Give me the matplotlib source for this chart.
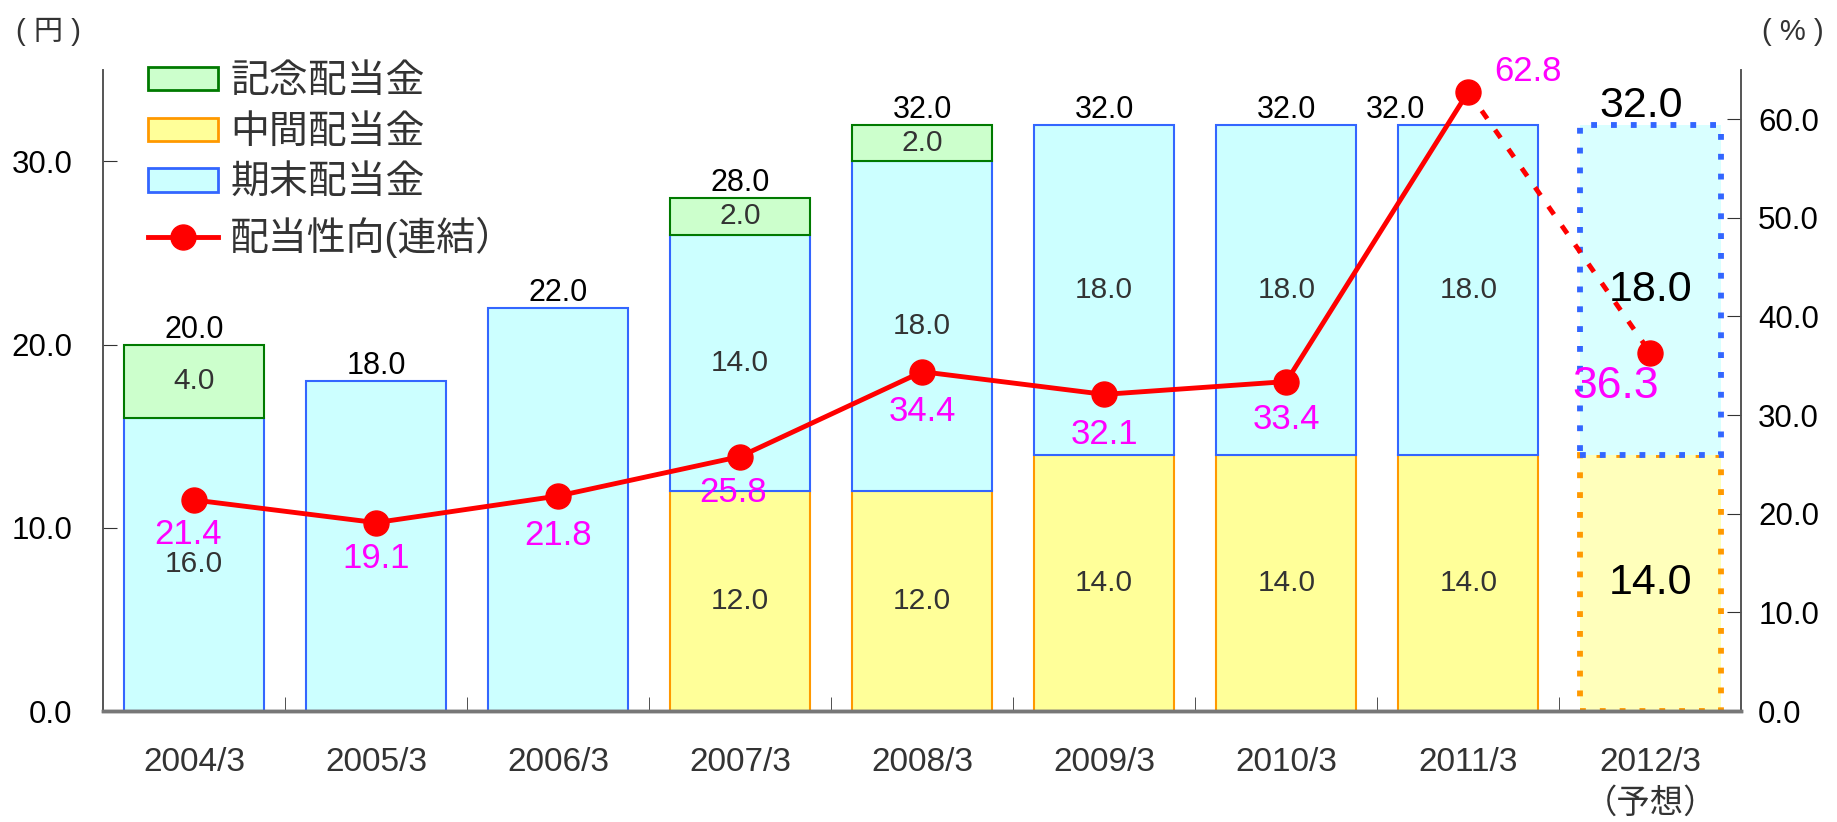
import numpy as np
import matplotlib.pyplot as plt
from matplotlib.patches import Patch
from matplotlib.lines import Line2D

plt.rcParams['font.family'] = ['Liberation Sans', 'Noto Sans CJK JP']

# Fiscal years, the last one is the forecast
years = ['2004/3', '2005/3', '2006/3', '2007/3', '2008/3',
         '2009/3', '2010/3', '2011/3', '2012/3\n（予想）']
# Dividend per share (yen)
interim = [0, 0, 0, 12.0, 12.0, 14.0, 14.0, 14.0, 14.0]
year_end = [16.0, 18.0, 22.0, 14.0, 18.0, 18.0, 18.0, 18.0, 18.0]
commemorative = [4.0, 0, 0, 2.0, 2.0, 0, 0, 0, 0]
# Consolidated payout ratio (%)
payout_ratio = [21.4, 19.1, 21.8, 25.8, 34.4, 32.1, 33.4, 62.8, 36.3]

# Colours
YELLOW, ORANGE = '#FFFF99', '#FF9900'
CYAN, BLUE = '#CCFFFF', '#3366FF'
LGREEN, GREEN = '#CCFFCC', '#007A00'
MAGENTA = '#FF00FF'

n = len(years)
x = np.arange(n)
width = 0.77
forecast = n - 1
totals = np.array(interim) + np.array(year_end) + np.array(commemorative)

fig = plt.figure(figsize=(18.37, 8.22), dpi=100)
ax = fig.add_axes([0.056, 0.135, 0.892, 0.780])

# Draw stacked bars segment by segment, so zero segments leave no edge line
for i in range(n):
    dotted = (i == forecast)
    ls = (0, (1.0, 2.4)) if dotted else '-'
    lw = 4.2 if dotted else 1.5
    segs = [(interim[i], 0, '#FFFFBB' if dotted else YELLOW, ORANGE),
            (year_end[i], interim[i], '#D9FFFF' if dotted else CYAN, BLUE),
            (commemorative[i], interim[i] + year_end[i], LGREEN, GREEN)]
    n_segs = sum(1 for s in segs if s[0] > 0)
    for h, b, fc, ec in segs:
        if h <= 0:
            continue
        ax.bar(x[i], h, width, bottom=b, color=fc, edgecolor=ec,
               linewidth=lw, linestyle=ls, zorder=2)
        # single segment bars only get the total on top
        if n_segs < 2:
            continue
        if dotted:
            ax.text(x[i], b + h / 2, '%.1f' % h, ha='center', va='center',
                    fontsize=31, color='black', zorder=3)
        else:
            ax.text(x[i], b + h / 2, '%.1f' % h, ha='center', va='center',
                    fontsize=21.5, color='#333333', zorder=3)

# Totals above the bars
for i in range(n):
    if i == forecast:
        ax.annotate('%.1f' % totals[i], (x[i] - 0.05, totals[i]), xytext=(0, -1),
                    textcoords='offset pixels', ha='center', va='bottom',
                    fontsize=31, color='black', zorder=3)
    else:
        dx = -0.4 if i == 7 else 0
        ax.annotate('%.1f' % totals[i], (x[i] + dx, totals[i]), xytext=(0, 0),
                    textcoords='offset pixels', ha='center', va='bottom',
                    fontsize=22, color='black', zorder=3)

ax.set_xlim(-0.5, n - 0.5)
ax.set_ylim(0, 35)
ax.set_yticks([0, 10, 20, 30])
ax.set_yticklabels(['%.1f' % v for v in [0, 10, 20, 30]])
ax.set_xticks(x)
ax.set_xticklabels(years, color='#333333', fontsize=24, linespacing=1.4)
ax.set_xticks(np.arange(0.5, n - 1), minor=True)
ax.tick_params(axis='x', which='major', length=0, pad=26)
ax.tick_params(axis='x', which='minor', direction='in', length=10, color='#333333')
ax.tick_params(axis='y', direction='in', length=10, labelsize=22.5, pad=22,
               color='#333333')

# Payout ratio on the right axis
ax2 = ax.twinx()
ax2.set_ylim(0, 65)
ax2.set_yticks(np.arange(0, 61, 10))
ax2.set_yticklabels(['%.1f' % v for v in np.arange(0, 61, 10)])
ax2.tick_params(axis='y', direction='in', length=10, labelsize=22.5, pad=12,
                color='#333333')
ax2.plot(x[:forecast], payout_ratio[:forecast], color='red', lw=3.5, zorder=4)
ax2.plot(x[forecast - 1:], payout_ratio[forecast - 1:], color='red', lw=3.5,
         linestyle=(0, (2, 2.8)), zorder=4)
ax2.plot(x, payout_ratio, 'o', color='red', markersize=18, zorder=5)

# Offsets (pixels) for the payout ratio labels
label_off = [(-6, -35), (0, -36), (0, -40), (-7, -36), (0, -40),
             (0, -40), (0, -38), (60, 20), (-35, -34)]
for i in range(n):
    fs = 32 if i == forecast else 25
    ax2.annotate('%.1f' % payout_ratio[i], (x[i], payout_ratio[i]),
                 xytext=label_off[i], textcoords='offset pixels',
                 ha='center', va='center', fontsize=fs, color=MAGENTA, zorder=6)

for a in (ax, ax2):
    a.spines['top'].set_visible(False)
    a.spines['left'].set_color('#555555')
    a.spines['right'].set_color('#555555')
    a.spines['bottom'].set_color('#777777')
    a.spines['bottom'].set_linewidth(2.5)
    a.spines['left'].set_linewidth(1.2)
    a.spines['right'].set_linewidth(1.2)

# Unit labels
fig.text(0.0265, 0.961, '( 円 )', ha='center', va='center', fontsize=21,
         color='#333333')
fig.text(0.976, 0.961, '( % )', ha='center', va='center', fontsize=21,
         color='#333333')

handles = [Patch(facecolor=LGREEN, edgecolor=GREEN, linewidth=2),
           Patch(facecolor=YELLOW, edgecolor=ORANGE, linewidth=2),
           Patch(facecolor=CYAN, edgecolor=BLUE, linewidth=2),
           Line2D([], [], color='red', lw=3.5, marker='o', markersize=18)]
labels = ['記念配当金', '中間配当金', '期末配当金', '配当性向(連結）']
leg = ax2.legend(handles, labels, loc='upper left', bbox_to_anchor=(0.066, 0.955),
                 bbox_transform=fig.transFigure, frameon=False, fontsize=28,
                 handlelength=1.8, handleheight=0.55, labelspacing=0.38,
                 handletextpad=0.3, borderpad=0.2)
for t in leg.get_texts():
    t.set_color('#333333')

fig.savefig('out.png', dpi=100)
